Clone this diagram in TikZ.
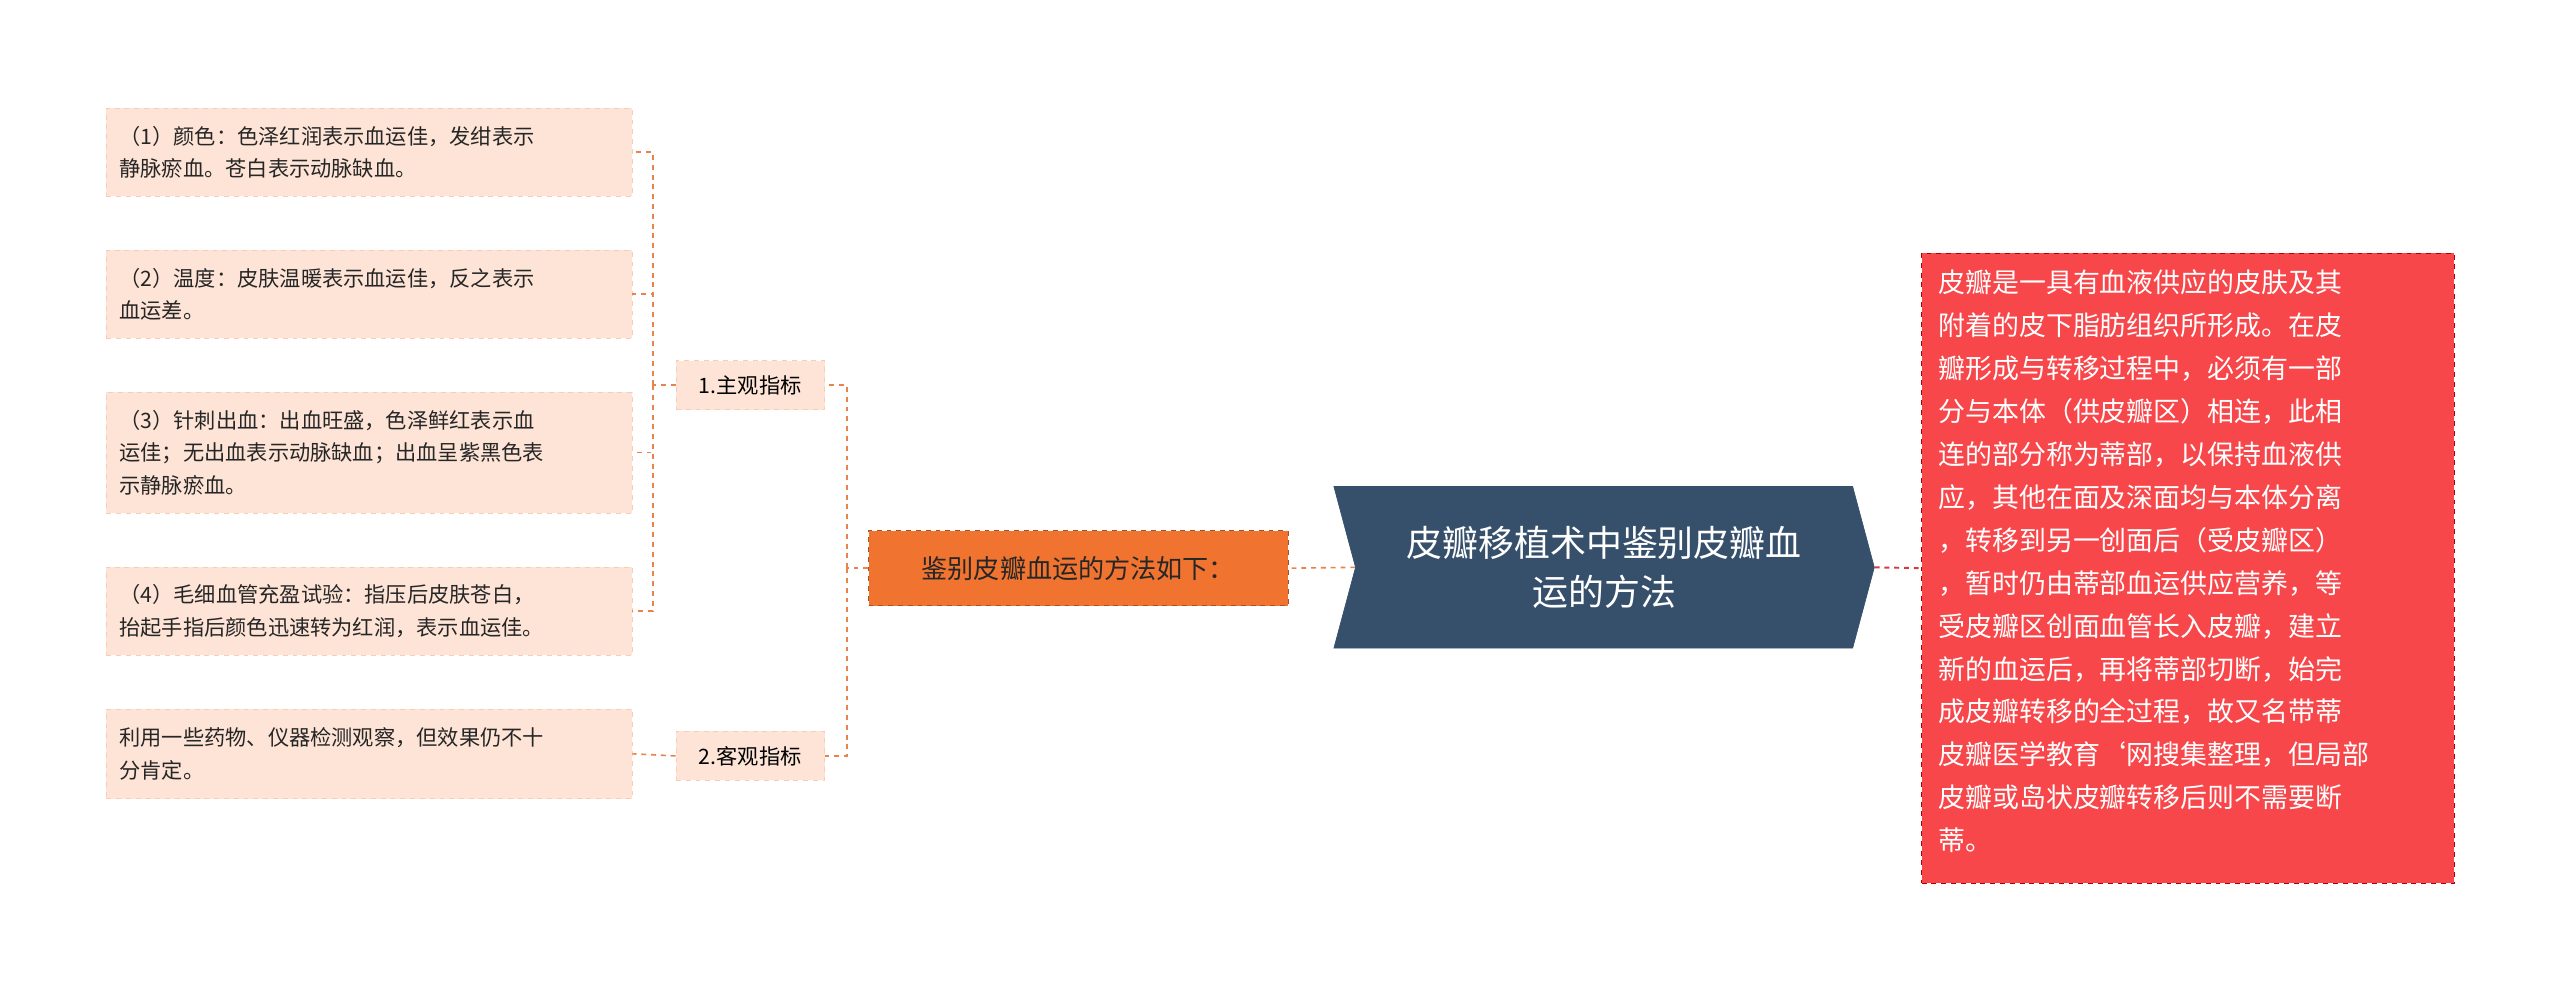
\documentclass[tikz,border=0pt]{standalone}
\usepackage{fontspec}
\setmainfont{Noto Sans CJK SC}
\usetikzlibrary{shapes.symbols}
\definecolor{conn}{HTML}{E8834B}
\definecolor{leaf}{HTML}{FDE4D6}
\definecolor{leafb}{HTML}{F9CDB5}
\definecolor{ctr}{HTML}{36506C}
\definecolor{redn}{HTML}{F7474A}
\definecolor{orn}{HTML}{F07430}
\tikzset{
  leafbox/.style={fill=leaf, draw=leafb, dashed, inner sep=0pt, align=left, font=\fontsize{13}{20}\selectfont, text=black!85, anchor=north west},
  link/.style={draw=conn, dashed, line width=1pt},
}
\begin{document}
\begin{tikzpicture}[x=1pt,y=-1pt]
\useasboundingbox[fill=white] (0,0) rectangle (1568,607);
% center
\node[signal, signal from=west, signal to=east, signal pointer angle=150, fill=ctr, draw=ctr, minimum width=331, minimum height=99, inner sep=0pt, text=white, align=center, font=\fontsize{22}{30}\selectfont] (c) at (982.5,347.5) {皮瓣移植术中鉴别皮瓣血\\运的方法};
% right
\node[fill=redn, draw=red!70!black, dashed, minimum width=326, minimum height=386, inner sep=0pt, text=white] (r) at (1340,348) {};
\node[anchor=north west, text=white, align=left, inner sep=0pt, font=\fontsize{16.5}{26.3}\selectfont] at (1187,165) {皮瓣是一具有血液供应的皮肤及其\\附着的皮下脂肪组织所形成。在皮\\瓣形成与转移过程中，必须有一部\\分与本体（供皮瓣区）相连，此相\\连的部分称为蒂部，以保持血液供\\应，其他在面及深面均与本体分离\\，转移到另一创面后（受皮瓣区）\\，暂时仍由蒂部血运供应营养，等\\受皮瓣区创面血管长入皮瓣，建立\\新的血运后，再将蒂部切断，始完\\成皮瓣转移的全过程，故又名带蒂\\皮瓣医学教育`网搜集整理，但局部\\皮瓣或岛状皮瓣转移后则不需要断\\蒂。};
% orange
\node[fill=orn, draw=orn!70!black, dashed, minimum width=257, minimum height=46, inner sep=0pt, text=black!85, font=\fontsize{16}{20}\selectfont] (o) at (660.5,348) {鉴别皮瓣血运的方法如下：};
% mid
\node[fill=leaf, draw=leafb, dashed, minimum width=91, minimum height=30, inner sep=0pt, font=\fontsize{13}{16}\selectfont] (s1) at (459.5,236) {1.主观指标};
\node[fill=leaf, draw=leafb, dashed, minimum width=91, minimum height=30, inner sep=0pt, font=\fontsize{13}{16}\selectfont] (s2) at (459.5,463) {2.客观指标};
% leaves
\node[leafbox, minimum width=322, minimum height=54, text width=314] (l1) at (65,66) {\hspace*{4pt}\parbox[c][54pt][c]{310pt}{（1）颜色：色泽红润表示血运佳，发绀表示\\静脉瘀血。苍白表示动脉缺血。}};
\node[leafbox, minimum width=322, minimum height=54, text width=314] (l2) at (65,153) {\hspace*{4pt}\parbox[c][54pt][c]{310pt}{（2）温度：皮肤温暖表示血运佳，反之表示\\血运差。}};
\node[leafbox, minimum width=322, minimum height=74, text width=314] (l3) at (65,240) {\hspace*{4pt}\parbox[c][74pt][c]{310pt}{（3）针刺出血：出血旺盛，色泽鲜红表示血\\运佳；无出血表示动脉缺血；出血呈紫黑色表\\示静脉瘀血。}};
\node[leafbox, minimum width=322, minimum height=54, text width=314] (l4) at (65,347) {\hspace*{4pt}\parbox[c][54pt][c]{310pt}{（4）毛细血管充盈试验：指压后皮肤苍白，\\抬起手指后颜色迅速转为红润，表示血运佳。}};
\node[leafbox, minimum width=322, minimum height=55, text width=314] (l5) at (65,434) {\hspace*{4pt}\parbox[c][55pt][c]{310pt}{利用一些药物、仪器检测观察，但效果仍不十\\分肯定。}};
% connectors
\draw[draw=redn!85!black, dashed, line width=1.2pt] (c.east) -- (r.west);
\draw[link] (c.west) -- (o.east);
\draw[link] (o.west) -- ++(-13,0) coordinate (j1);
\draw[link] (j1) |- (s1.east);
\draw[link] (j1) |- (s2.east);
\draw[link] (s1.west) -- ++(-14,0) coordinate (j2);
\foreach \n in {l1,l2,l3,l4} \draw[link] (j2) |- (\n.east);
\draw[link] (s2.west) -- (l5.east);
\end{tikzpicture}
\end{document}
